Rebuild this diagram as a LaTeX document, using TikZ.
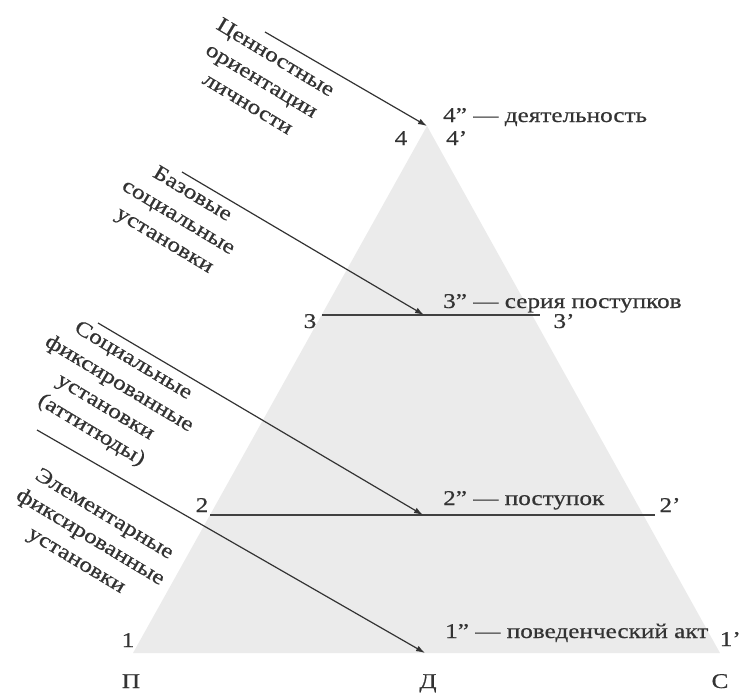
\documentclass[tikz,border=0pt]{standalone}
\usepackage{fontspec}
\setmainfont{Liberation Serif}[FakeStretch=1.2,FakeBold=0.6]
\usetikzlibrary{arrows.meta}
\begin{document}
\begin{tikzpicture}[x=1pt,y=-1pt,
  lbl/.style={font=\fontsize{21}{25}\selectfont, inner sep=0pt, text=black!80, anchor=base},
  side/.style={font=\fontsize{21}{27}\selectfont, align=center, rotate=-31, inner sep=0pt, text=black!80},
  arr/.style={draw=black!80, line width=1.2pt, -{Latex[length=9pt,width=6pt]}},
  lvl/.style={draw=black!75, line width=1.3pt}]
\useasboundingbox (0,0) rectangle (741,693);
% triangle
\coordinate (P) at (133,653);
\coordinate (C) at (720,653);
\coordinate (A) at (427,126);
\fill[black!8] (P) -- (A) -- (C) -- cycle;
% levels
\coordinate (l3a) at (322,315); \coordinate (l3b) at (540,315);
\coordinate (l2a) at (210,515); \coordinate (l2b) at (655,515);
\draw[lvl] (l3a) -- (l3b);
\draw[lvl] (l2a) -- (l2b);
% arrows
\coordinate (S4) at (265,32);  \coordinate (D4) at (427,126);
\coordinate (S3) at (182,172); \coordinate (D3) at (424,315);
\coordinate (S2) at (98,323);  \coordinate (D2) at (423,515);
\coordinate (S1) at (37,430);  \coordinate (D1) at (425,653);
\draw[arr] (S4) -- (D4);
\draw[arr] (S3) -- (D3);
\draw[arr] (S2) -- (D2);
\draw[arr] (S1) -- (D1);
% number labels
\node[lbl] (n4) at (401,145) {4};
\node[lbl, anchor=base west] (n4p) at (446,145) {4'};
\node[lbl, anchor=base west] (t4) at (443,122) {4'' --- деятельность};
\node[lbl] (n3) at (310,328) {3};
\node[lbl] (n3p) at (564,328) {3'};
\node[lbl, anchor=base west] (t3) at (443,308) {3'' --- серия поступков};
\node[lbl] (n2) at (202,512) {2};
\node[lbl] (n2p) at (670,512) {2'};
\node[lbl, anchor=base west] (t2) at (443,505) {2'' --- поступок};
\node[lbl] (n1) at (128,647) {1};
\node[lbl, anchor=base east] (n1p) at (741,646) {1'};
\node[lbl, anchor=base west] (t1) at (445,638) {1'' --- поведенческий акт};
\node[lbl] (nP) at (131,688) {П};
\node[lbl] (nD) at (428,688) {Д};
\node[lbl] (nC) at (720,688) {С};
% side labels
\node[side] (b4) at (262,80) {Ценностные\\ориентации\\личности};
\node[side] (b3) at (178,218) {Базовые\\социальные\\установки};
\node[side] (b2) at (112,396) {Социальные\\фиксированные\\установки\\(аттитюды)};
\node[side] (b1) at (90,538) {Элементарные\\фиксированные\\установки};
\end{tikzpicture}
\end{document}
